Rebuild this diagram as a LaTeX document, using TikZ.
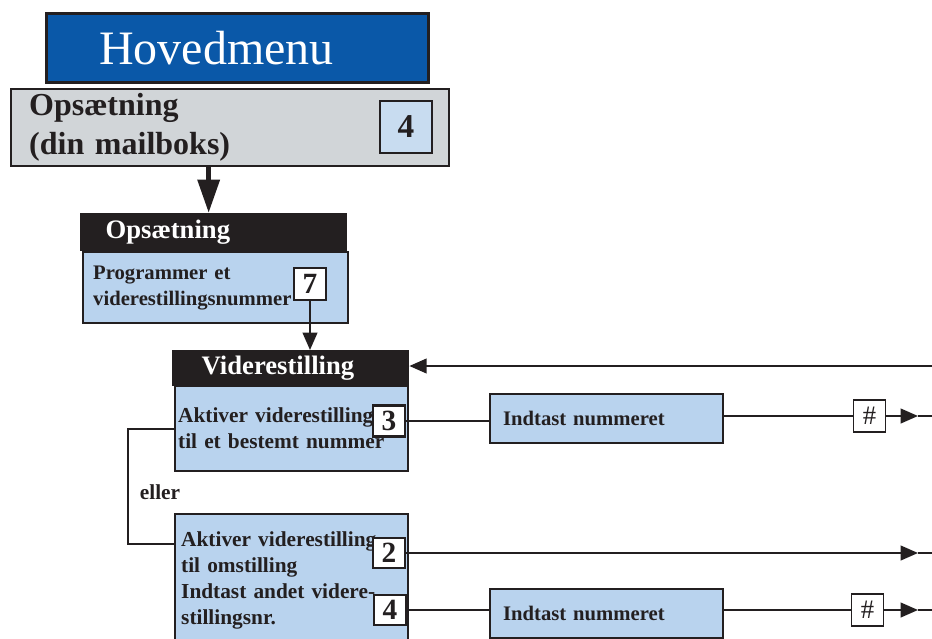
\documentclass[tikz,border=0pt]{standalone}
\usepackage{fontspec}
\setmainfont{Liberation Serif}
\usepackage{tikz}
\usetikzlibrary{arrows.meta, positioning, calc}
\definecolor{menublue}{HTML}{0A58A8}
\definecolor{menugray}{HTML}{D1D5D8}
\definecolor{boxblue}{HTML}{B9D3EE}
\definecolor{keyblue}{HTML}{C8DCF0}
\definecolor{inkdark}{HTML}{231F20}
\tikzset{
    titlebar/.style={
        rectangle,
        draw=inkdark,
        line width=2pt,
        fill=menublue,
        text=white,
        anchor=north west,
        align=left,
        font=\fontsize{36}{40}\selectfont
    },
    menubox/.style={
        rectangle,
        draw=inkdark,
        line width=1.8pt,
        fill=menugray,
        text=inkdark,
        anchor=north west,
        align=left,
        font=\fontsize{24}{29}\selectfont\bfseries
    },
    headbar/.style={
        rectangle,
        draw=inkdark,
        line width=1pt,
        fill=inkdark,
        text=white,
        anchor=north west,
        align=left,
        font=\fontsize{20}{24}\selectfont\bfseries
    },
    infobox/.style={
        rectangle,
        draw=inkdark,
        line width=1.8pt,
        fill=boxblue,
        text=inkdark,
        anchor=north west,
        align=left,
        font=\fontsize{16}{19.5}\selectfont\bfseries
    },
    keybox/.style={
        rectangle,
        draw=inkdark,
        line width=1.6pt,
        fill=white,
        text=inkdark,
        minimum size=24pt,
        inner sep=0pt,
        font=\fontsize{22}{22}\selectfont\bfseries
    },
    hashbox/.style={
        rectangle,
        draw=inkdark,
        line width=1.4pt,
        fill=white,
        text=inkdark,
        minimum size=24pt,
        inner sep=0pt,
        font=\fontsize{20}{20}\selectfont
    },
    note/.style={
        text=inkdark,
        inner sep=0pt,
        font=\fontsize{16}{16}\selectfont\bfseries
    },
    wire/.style={
        draw=inkdark,
        line width=1.5pt
    },
    flow/.style={
        draw=inkdark,
        line width=1.5pt,
        -{Triangle[length=13pt,width=11pt]}
    },
    bigflow/.style={
        draw=inkdark,
        line width=4pt,
        -{Triangle[length=25pt,width=16pt]}
    }
}
\begin{document}
\begin{tikzpicture}[x=0.75pt, y=-0.75pt]
\useasboundingbox (0,0) rectangle (932,639);
\clip (0,0) rectangle (932,639);

% Main menu
\node[titlebar, minimum width=286.5pt, minimum height=51.75pt, text width=207pt, inner xsep=39.75pt] (hovedmenu) at (45,12) {Hovedmenu};

% Setup entry
\node[menubox, minimum width=328.5pt, minimum height=56.25pt, text width=301.5pt, inner xsep=13.5pt] (opsaetning) at (10,88) {Opsætning\\(din mailboks)};
\node[keybox, fill=keyblue, minimum size=39pt, font=\fontsize{25}{25}\selectfont\bfseries] (key4) at (406,127) {4};

% Setup submenu
\node[headbar, minimum width=199.5pt, minimum height=27.75pt, text width=162pt, inner xsep=18.75pt] (opsHead) at (80,213) {Opsætning};
\node[infobox, minimum width=198.75pt, minimum height=53.25pt, text width=183.75pt, inner xsep=7.5pt, font=\fontsize{15.5}{19.5}\selectfont\bfseries] (progBox) at (82,251) {Programmer et\\viderestillingsnummer};
\node[keybox] (key7) at (310,284) {7};

% Forwarding menu
\node[headbar, minimum width=177pt, minimum height=26.25pt, text width=133.5pt, inner xsep=21.75pt] (videHead) at (172,350) {Viderestilling};
\node[infobox, minimum width=174.75pt, minimum height=63.75pt, text width=170.25pt, inner xsep=2.25pt] (aktivBox) at (174,385) {Aktiver viderestilling\\til et bestemt nummer};
\node[keybox, minimum height=23.25pt] (key3) at (389,421) {3};

\node[infobox, minimum width=174.75pt, minimum height=36.75pt, text width=155.25pt, inner xsep=9.75pt, font=\fontsize{15.5}{19.5}\selectfont\bfseries] (indtast1) at (489,393) {Indtast nummeret};
\node[hashbox] (hash1) at (869.5,416) {\#};

\node[note] (eller) at (160,492) {eller};

\node[infobox, minimum width=174.75pt, minimum height=99pt, text width=165.75pt, inner xsep=4.5pt] (aktivOms) at (174,513) {Aktiver viderestilling\\til omstilling\\Indtast andet videre-\\stillingsnr.};
\node[keybox, minimum height=22.5pt] (key2) at (389,553) {2};
\node[keybox, minimum height=22.5pt] (key4b) at (390,610) {4};

\node[infobox, minimum width=174.75pt, minimum height=36.75pt, text width=155.25pt, inner xsep=9.75pt, font=\fontsize{15.5}{19.5}\selectfont\bfseries] (indtast2) at (489,588) {Indtast nummeret};
\node[hashbox] (hash2) at (867.5,610) {\#};

% Free ends at the right edge
\coordinate (ret) at (932,366);
\coordinate (tip1) at (918,416);
\coordinate (end1) at (932,416);
\coordinate (tip2) at (918,553);
\coordinate (end2) at (932,553);
\coordinate (tip3) at (918,610);
\coordinate (end3) at (932,610);

% Connectors
\draw[bigflow] ([xshift=-3.75pt]opsHead.north |- opsaetning.south) -- ([xshift=-3.75pt]opsHead.north);
\draw[flow] (key7.south) -- (key7.south |- videHead.north);
\draw[flow] (ret) -- (ret -| videHead.east);

\draw[wire] (key3.east) -- (key3.east -| indtast1.west);
\draw[wire] (indtast1.east |- hash1) -- (hash1.west);
\draw[flow] (hash1.east) -- (tip1);
\draw[wire] (tip1) -- (end1);

\draw[wire] (aktivBox.west) -- ++(-46,0) |- ([yshift=-23.25pt]aktivOms.north west);

\draw[flow] (key2.east) -- (tip2);
\draw[wire] (tip2) -- (end2);

\draw[wire] (key4b.east) -- (key4b.east -| indtast2.west);
\draw[wire] (indtast2.east |- hash2) -- (hash2.west);
\draw[flow] (hash2.east) -- (tip3);
\draw[wire] (tip3) -- (end3);

\end{tikzpicture}
\end{document}
